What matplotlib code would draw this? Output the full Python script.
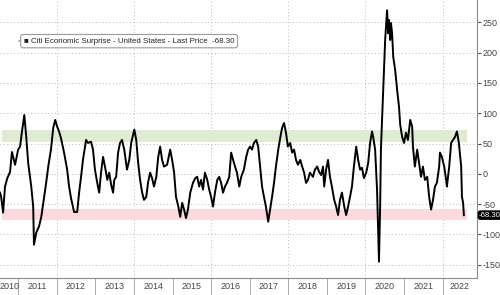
import matplotlib
matplotlib.use("Agg")
import matplotlib.pyplot as plt
from matplotlib import font_manager

# ---- data (decimal year, index value) ----
years = [2010.53, 2010.56, 2010.61, 2010.66, 2010.72, 2010.79, 2010.84, 2010.92, 2011.00, 2011.05,
         2011.10, 2011.16, 2011.21, 2011.26, 2011.34, 2011.39, 2011.41, 2011.47, 2011.54, 2011.60,
         2011.67, 2011.73, 2011.78, 2011.85, 2011.91, 2011.96, 2012.01, 2012.06, 2012.11, 2012.19,
         2012.27, 2012.32, 2012.37, 2012.45, 2012.53, 2012.58, 2012.63, 2012.68, 2012.76, 2012.81,
         2012.89, 2012.94, 2012.99, 2013.05, 2013.10, 2013.15, 2013.20, 2013.25, 2013.31, 2013.36,
         2013.41, 2013.46, 2013.49, 2013.54, 2013.59, 2013.64, 2013.69, 2013.75, 2013.82, 2013.88,
         2013.93, 2014.01, 2014.06, 2014.11, 2014.16, 2014.21, 2014.26, 2014.32, 2014.37, 2014.42,
         2014.47, 2014.52, 2014.58, 2014.63, 2014.68, 2014.73, 2014.78, 2014.86, 2014.94, 2014.99,
         2015.04, 2015.09, 2015.15, 2015.20, 2015.25, 2015.30, 2015.35, 2015.40, 2015.46, 2015.53,
         2015.59, 2015.64, 2015.69, 2015.74, 2015.79, 2015.84, 2015.90, 2015.95, 2016.00, 2016.05,
         2016.10, 2016.16, 2016.21, 2016.26, 2016.31, 2016.36, 2016.41, 2016.47, 2016.52, 2016.57,
         2016.62, 2016.67, 2016.73, 2016.78, 2016.85, 2016.91, 2016.96, 2017.01, 2017.06, 2017.11,
         2017.17, 2017.22, 2017.27, 2017.32, 2017.37, 2017.42, 2017.48, 2017.53, 2017.58, 2017.63,
         2017.68, 2017.74, 2017.79, 2017.84, 2017.89, 2017.94, 2017.99, 2018.05, 2018.10, 2018.15,
         2018.20, 2018.25, 2018.31, 2018.36, 2018.41, 2018.46, 2018.51, 2018.56, 2018.64, 2018.69,
         2018.75, 2018.80, 2018.85, 2018.90, 2018.93, 2018.98, 2019.03, 2019.08, 2019.13, 2019.19,
         2019.24, 2019.29, 2019.34, 2019.39, 2019.45, 2019.50, 2019.55, 2019.60, 2019.65, 2019.70,
         2019.76, 2019.81, 2019.86, 2019.91, 2019.96, 2020.02, 2020.07, 2020.12, 2020.17, 2020.20,
         2020.25, 2020.30, 2020.33, 2020.35, 2020.38, 2020.40, 2020.46, 2020.51, 2020.56, 2020.59,
         2020.61, 2020.64, 2020.66, 2020.69, 2020.72, 2020.77, 2020.82, 2020.87, 2020.90, 2020.95,
         2021.00, 2021.05, 2021.10, 2021.16, 2021.21, 2021.23, 2021.28, 2021.34, 2021.39, 2021.44,
         2021.49, 2021.54, 2021.60, 2021.65, 2021.70, 2021.75, 2021.80, 2021.85, 2021.91, 2021.93,
         2021.98, 2022.04, 2022.09, 2022.11, 2022.17, 2022.22, 2022.27, 2022.32, 2022.37, 2022.42,
         2022.48, 2022.50, 2022.53, 2022.55]
values = [-31, -38, -64, -21, -7, 3, 36, 15, 40, 45,
          70, 97, 61, 18, -21, -54, -117, -97, -87, -71,
          -40, -13, 12, 40, 76, 89, 78, 70, 59, 35,
          7, -21, -40, -63, -63, -31, -5, 23, 56, 51,
          53, 40, 7, -15, -31, 3, 28, 12, -10, 2,
          -18, -31, -10, -5, 35, 51, 56, 40, 7, 23,
          51, 73, 56, 18, -10, -30, -43, -38, -13, 2,
          -7, -21, -5, 28, 45, 23, 12, 15, 40, 23,
          3, -38, -54, -71, -48, -59, -73, -59, -31, -15,
          -7, -5, -21, -10, -26, 2, -10, -26, -38, -54,
          -31, -10, -5, -15, -31, -21, -15, -5, 35, 23,
          12, 2, -21, -5, 7, 28, 40, 45, 40, 51,
          56, 45, 12, -21, -38, -54, -79, -59, -38, -15,
          12, 40, 59, 76, 84, 68, 45, 51, 35, 40,
          23, 15, 23, 12, 2, -15, -10, 2, -5, 7,
          12, 3, -2, 12, -21, 7, 23, -5, -21, -43,
          -54, -68, -43, -31, -54, -68, -54, -38, -21, 12,
          45, 23, 7, 10, -7, 2, 18, 51, 70, 61,
          40, -26, -100, -145, -54, 40, 139, 221, 270, 232,
          254, 221, 249, 232, 193, 171, 139, 110, 81, 61,
          51, 68, 56, 89, 78, 45, 12, 40, 18, -5,
          12, -10, -5, -38, -59, -43, -21, -15, 12, 35,
          28, 12, -10, -21, 12, 51, 56, 61, 70, 51,
          12, -38, -48, -68.3]

series_label = "Citi Economic Surprise - United States - Last Price"
last_price = -68.30
year_labels = [2010, 2011, 2012, 2013, 2014, 2015, 2016, 2017, 2018, 2019, 2020, 2021, 2022]
y_ticks = [-150, -100, -50, 0, 50, 100, 150, 200, 250]
green_band = (52, 73)
red_band = (-76, -58)

# ---- fonts ----
avail = {f.name for f in font_manager.fontManager.ttflist}
narrow = "Liberation Sans Narrow" if "Liberation Sans Narrow" in avail else "Liberation Sans"
plt.rcParams['font.family'] = [narrow, 'DejaVu Sans']

fig = plt.figure(figsize=(5.0, 2.95), dpi=100)
ax = fig.add_axes([0.0, 0.0576, 0.954, 0.9424])

x0, x1 = 2010.53, 2022.89
ax.set_xlim(x0, x1)
ax.set_ylim(-172, 287)

# bands
ax.fill_between([2010.58, 2022.62], green_band[0], green_band[1], color="#dfebd3", lw=0, zorder=1)
ax.fill_between([2010.58, 2022.62], red_band[0], red_band[1], color="#fbdadd", lw=0, zorder=1)

# grid
for yv in y_ticks:
    ax.axhline(yv, color="#b8b8b8", lw=0.7, ls=(0, (1, 2.5)), zorder=0.5)
for xv in range(2012, 2023, 2):
    ax.axvline(xv, color="#b8b8b8", lw=0.7, ls=(0, (1, 2.5)), zorder=0.5)

ax.plot(years, values, color="black", lw=1.4, zorder=3, solid_joinstyle="round")

# spines
for s in ["top", "left"]:
    ax.spines[s].set_visible(False)
for s in ["bottom", "right"]:
    ax.spines[s].set_color("#8c8c8c")
    ax.spines[s].set_linewidth(0.8)

# y axis on right
ax.yaxis.tick_right()
ax.set_yticks(y_ticks)
ax.set_yticklabels([str(v) for v in y_ticks])
ax.tick_params(axis="y", which="major", length=3, width=0.8, color="#555555",
               labelsize=6.5, labelcolor="#444444", pad=1)

# x axis: separators at year boundaries, labels centered
ax.set_xticks(list(range(2011, 2023)))
ax.set_xticklabels([])
ax.tick_params(axis="x", which="major", length=12.5, width=0.6, color="#9a9a9a", direction="out")
centers = []
for yr in year_labels:
    a = max(yr, x0)
    b = min(yr + 1, x1)
    centers.append((a + b) / 2 + (0.0 if yr == 2010 else 0))
ax.set_xticks(centers, minor=True)
ax.set_xticklabels([str(y) for y in year_labels], minor=True)
ax.tick_params(axis="x", which="minor", length=0, labelsize=6.5, labelcolor="#444444", pad=3)

# legend box
ax.text(0.050, 0.852, "\u25a0 " + series_label + "  " + f"{last_price:.2f}",
        transform=ax.transAxes, fontsize=5.7, color="#222222", va="center", ha="left",
        bbox=dict(boxstyle="round,pad=0.4,rounding_size=0.3", fc="white", ec="#9a9a9a", lw=0.8),
        zorder=5)
ax.text(0.037, 0.852, "\u25aa", transform=ax.transAxes, fontsize=5, color="#aaaaaa",
        va="center", ha="left", zorder=6)

# last price tag
ax.text(1.004, last_price, f"{last_price:.2f}", transform=ax.get_yaxis_transform(),
        fontsize=5.6, color="white", va="center", ha="left", zorder=6, clip_on=False,
        bbox=dict(boxstyle="round,pad=0.12,rounding_size=0.3", fc="black", ec="black", lw=0.5))

fig.savefig("out.png", dpi=100)
